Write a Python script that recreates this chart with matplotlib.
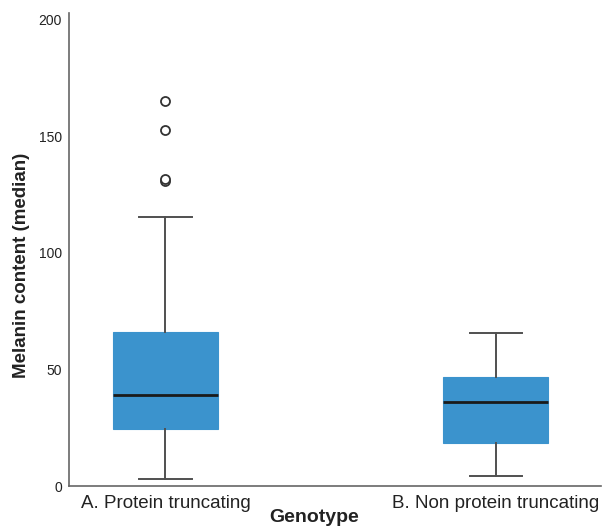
import matplotlib
matplotlib.use("Agg")
import matplotlib.pyplot as plt

# box statistics
groups = ["A. Protein truncating", "B. Non protein truncating"]
whislo = [3.3, 4.6]
q1 = [24.6, 18.5]
med = [39.0, 36.1]
q3 = [65.9, 46.9]
whishi = [115.3, 65.7]
fliers = [[130.6, 131.4, 152.6, 164.9], []]

plt.rcParams["font.family"] = ["Liberation Sans", "DejaVu Sans"]

fig = plt.figure(figsize=(6.05, 5.28), dpi=100)
ax = fig.add_axes([0.114, 0.079, 0.88, 0.896])

stats = []
for i in range(len(groups)):
    stats.append({"label": groups[i], "whislo": whislo[i], "q1": q1[i],
                  "med": med[i], "q3": q3[i], "whishi": whishi[i],
                  "fliers": fliers[i]})

blue = "#3b93cd"
line = "#505050"
ax.bxp(stats, positions=[0, 1], widths=0.316, patch_artist=True,
       boxprops=dict(facecolor=blue, edgecolor=blue, linewidth=0.8),
       medianprops=dict(color="#1a1a1a", linewidth=2),
       whiskerprops=dict(color=line, linewidth=1.4),
       capprops=dict(color=line, linewidth=1.4),
       capwidths=0.158,
       flierprops=dict(marker="o", markersize=6.5, markerfacecolor="white",
                       markeredgecolor="#333333", markeredgewidth=1.3))

ax.set_xlim(-0.292, 1.32)
ax.set_ylim(0, 202.6)
ax.set_yticks([0, 50, 100, 150, 200])
ax.tick_params(axis="y", length=0, labelsize=10, pad=5, labelcolor="#222222")
ax.tick_params(axis="x", length=0, labelsize=13.5, pad=6, labelcolor="#222222")

for s in ["top", "right"]:
    ax.spines[s].set_visible(False)
for s in ["left", "bottom"]:
    ax.spines[s].set_color("#666666")
    ax.spines[s].set_linewidth(1.2)

fig.text(22 / 605, 1 - 265 / 528, "Melanin content (median)", fontsize=13.5,
         fontweight="bold", rotation=90, ha="center", va="center",
         color="#222222")
fig.text(314 / 605, 1 - 518 / 528, "Genotype", fontsize=14, fontweight="bold",
         ha="center", va="center", color="#222222")

fig.savefig("out.png", dpi=100)
